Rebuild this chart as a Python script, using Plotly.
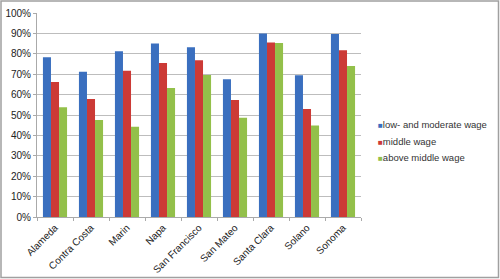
import plotly.graph_objects as go

counties = ["Alameda", "Contra Costa", "Marin", "Napa", "San Francisco",
            "San Mateo", "Santa Clara", "Solano", "Sonoma"]
series_names = ["low- and moderate wage", "middle wage", "above middle wage"]
low_moderate = [0.783, 0.712, 0.812, 0.851, 0.832, 0.675, 0.900, 0.695, 0.897]
middle = [0.662, 0.578, 0.717, 0.755, 0.768, 0.574, 0.856, 0.529, 0.817]
above_middle = [0.538, 0.475, 0.443, 0.632, 0.696, 0.487, 0.853, 0.449, 0.740]
y_ticks = [0, 0.1, 0.2, 0.3, 0.4, 0.5, 0.6, 0.7, 0.8, 0.9, 1.0]
colors = ["#3A6FBF", "#CC3A36", "#93C04A"]

W, H = 500, 279
ml, mr, mt, mb = 37, 139, 13, 62
pw, ph = W - ml - mr, H - mt - mb

fig = go.Figure()
for name, vals, c in zip(series_names, [low_moderate, middle, above_middle], colors):
    fig.add_trace(go.Bar(x=counties, y=vals, name=name, marker_color=c,
                         marker_line_width=0, showlegend=False))

font = "Liberation Sans, Arial, sans-serif"
# legend as text entries
leg_y0 = (H - mb - 124.5) / ph
step = 16.5 / ph
for i, (name, c) in enumerate(zip(series_names, colors)):
    fig.add_annotation(xref="paper", yref="paper",
                       x=(376 - ml) / pw, y=leg_y0 - i * step,
                       xanchor="left", yanchor="middle", showarrow=False,
                       text=f"<span style='color:{c};font-size:8px'>■</span>{name}",
                       font=dict(family=font, size=9.5, color="#333333"))

# outer frame
fig.add_shape(type="rect", xref="paper", yref="paper",
              x0=(1 - ml) / pw, x1=(W - 1.5 - ml) / pw,
              y0=-(mb - 1.5) / ph, y1=(H - mb - 1) / ph,
              line=dict(color="#A0A0A0", width=1.5), layer="above")

fig.update_layout(
    width=W, height=H,
    margin=dict(l=ml, r=mr, t=mt, b=mb, autoexpand=False),
    paper_bgcolor="white", plot_bgcolor="white",
    barmode="group", bargap=0.33, bargroupgap=0,
    font=dict(family=font, size=10, color="#222222"),
    xaxis=dict(tickangle=-45, tickson="boundaries", ticks="outside", ticklen=3,
               tickcolor="#AAAAAA", showline=True, linecolor="#AAAAAA",
               linewidth=1, showgrid=False, tickfont=dict(size=10),
               automargin=False),
    yaxis=dict(range=[0, 1.0], tickvals=y_ticks, tickformat=".0%",
               ticks="outside", ticklen=3, tickcolor="#AAAAAA",
               showline=True, linecolor="#AAAAAA", linewidth=1,
               gridcolor="#BDBDBD", gridwidth=1, zeroline=False,
               tickfont=dict(size=10), automargin=False),
)
fig.write_html("out.html")
